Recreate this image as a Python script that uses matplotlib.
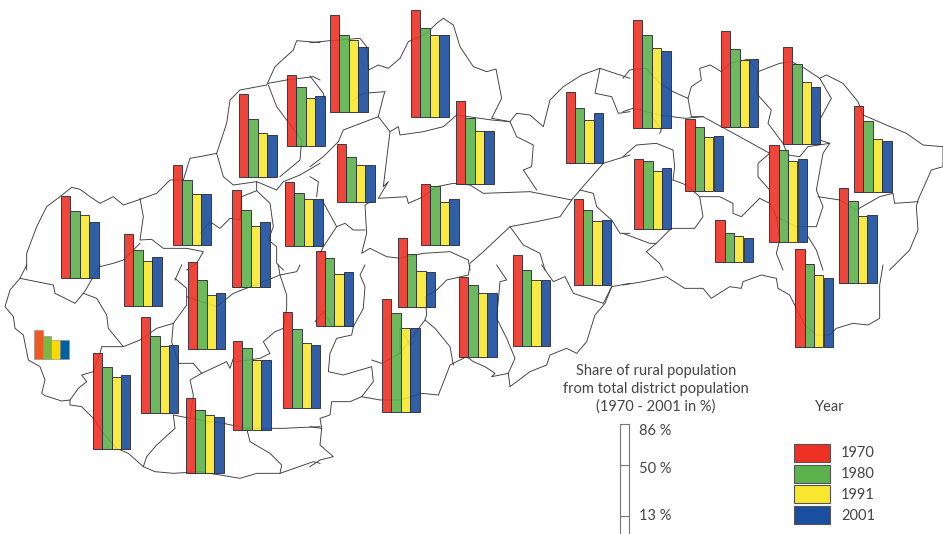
import matplotlib
matplotlib.use('Agg')
import matplotlib.pyplot as plt

plt.rcParams['font.family'] = ['Lato', 'DejaVu Sans']

years = ['1970', '1980', '1991', '2001']
colors = ['#EE3124', '#5CB24C', '#F8E72E', '#1A4E9E']

# share of rural population per district, in %
share_1970 = [62.6, 55.3, 61.1, 74.0, 63.7, 54.2, 48.9, 74.0, 81.3, 62.6, 44.3, 46.2,
              53.8, 56.9, 52.4, 86.0, 60.7, 69.5, 65.6, 72.9, 73.3, 66.0, 57.0, 67.6,
              72.9, 82.2, 73.3, 74.4, 66.0, 55.0, 53.4, 73.8, 72.8, 32.4, 74.6]
share_1980 = [50.8, 42.7, 49.6, 58.8, 43.9, 45.0, 40.5, 58.8, 67.9, 50.0, 34.7, 44.7,
              41.6, 51.5, 40.2, 75.6, 54.6, 58.0, 57.3, 62.2, 58.4, 52.3, 48.2, 62.2,
              59.9, 71.1, 59.8, 61.1, 54.2, 48.9, 51.9, 70.0, 63.2, 22.1, 63.1]
share_1991 = [48.1, 34.4, 38.9, 46.2, 33.6, 36.6, 35.9, 55.3, 62.6, 39.7, 27.9, 32.8,
              32.8, 39.3, 27.3, 64.1, 48.1, 50.4, 48.9, 54.6, 50.8, 40.8, 44.0, 53.1,
              49.2, 60.5, 51.1, 47.3, 40.5, 41.0, 44.3, 61.6, 51.4, 20.2, 54.7]
share_2001 = [42.7, 37.4, 39.3, 49.6, 32.4, 38.2, 35.9, 50.0, 62.6, 40.1, 27.9, 34.7,
              37.8, 40.8, 26.5, 64.1, 48.1, 50.4, 49.6, 56.1, 51.9, 42.4, 42.5, 53.1,
              47.7, 58.6, 51.9, 43.5, 38.9, 42.1, 46.2, 63.1, 51.8, 18.3, 52.8]

# the one small diagram in the far west is printed in duller colours
west_share = [21.8, 17.2, 14.5, 14.5]
west_colors = ['#F05A22', '#7AB648', '#FFD800', '#0060A0']

scale_labels = ['86 %', '50 %', '13 %']
legend_title = ['Share of rural population', 'from total district population', '(1970 - 2001 in %)']

# where each district's diagram stands on the map (left edge, baseline)
diagram_left = [61, 124, 173, 232, 239, 287, 285, 330, 411, 456, 337, 421,
                565.5, 315.5, 397.5, 382, 459, 512.5, 573.5, 92.7, 140.7, 187.7, 186, 233,
                282.7, 633, 720.7, 782.7, 854, 685.3, 633.7, 769.3, 839, 715.3, 795.3]
diagram_base = [278, 306, 245, 287, 177, 146, 246, 112, 117, 183.5, 202, 244.5,
                162.5, 325.5, 306.7, 412, 356.5, 346, 285, 448.5, 413, 348.5, 472.7, 429.5,
                407.5, 127.7, 127, 144, 192, 190.7, 229, 241.7, 283.3, 262, 346.7]

PX_PER_PCT = 1.31
BAR_W = 9.4


# borders were traced on 3x crops, so each piece keeps its crop offset
def tile(x0, y0, pts):
    return [(x0 + x / 3, y0 + y / 3) for x, y in pts]


borders = [
    # outer boundary
    tile(0, 0, [(80, 810), (80, 760), (110, 680), (140, 620), (180, 590), (215, 562), (240, 568), (270, 590),
                (300, 610), (340, 590), (370, 615), (415, 600), (470, 580), (510, 540), (550, 540), (570, 475),
                (610, 468), (650, 460), (680, 370), (690, 300), (720, 270), (800, 255), (825, 200), (880, 150),
                (890, 122), (960, 128)]),
    tile(310, 0, [(0, 128), (60, 122), (150, 115), (170, 140), (175, 210), (205, 195), (235, 205), (270, 175),
                  (295, 125), (350, 100), (380, 70), (400, 55), (430, 75), (450, 140), (490, 200), (530, 215),
                  (558, 207), (575, 295), (545, 355), (600, 365), (620, 340), (660, 345), (700, 380), (720, 300),
                  (760, 260), (815, 225), (870, 205), (960, 235)]),
    tile(623, 0, [(0, 235), (20, 210), (70, 205), (110, 250), (150, 275), (195, 295), (205, 260), (235, 240),
                  (230, 205), (262, 195), (295, 215), (320, 190), (375, 178), (405, 215), (470, 190), (505, 185),
                  (545, 205), (590, 235), (610, 225), (660, 250), (705, 305), (720, 345), (790, 375), (850, 400),
                  (900, 435), (960, 440), (960, 500), (925, 510), (885, 600), (880, 620), (885, 690), (860, 750),
                  (800, 810)]),
    tile(623, 265, [(780, 0), (770, 60), (770, 160), (735, 180), (690, 175), (640, 190), (620, 210), (580, 210),
                    (545, 180), (520, 130), (500, 90), (465, 70), (460, 40), (415, 30), (360, 50), (355, 70),
                    (320, 65), (265, 100), (240, 70), (185, 70), (130, 35), (60, 50), (0, 60)]),
    tile(310, 265, [(960, 55), (905, 65), (885, 115), (855, 150), (830, 230), (800, 265), (770, 250), (720, 270),
                    (710, 300), (660, 320), (600, 365), (595, 325), (545, 335), (555, 325), (525, 305), (490, 290),
                    (470, 275), (420, 300), (405, 340), (385, 390), (335, 385), (270, 405), (210, 405), (155, 395),
                    (120, 410), (65, 410), (60, 450), (30, 460), (35, 490), (30, 540), (70, 575), (30, 585),
                    (0, 605)]),
    tile(0, 265, [(960, 595), (940, 590), (840, 625), (770, 625), (720, 640), (660, 630), (600, 620), (520, 625),
                  (465, 620), (430, 605), (385, 565), (350, 550), (310, 505), (280, 460), (245, 425), (210, 420),
                  (210, 405), (185, 408), (135, 392), (125, 385), (135, 345), (120, 305), (85, 285), (70, 210),
                  (45, 190), (40, 155), (15, 125), (30, 75), (60, 40), (80, 0)]),
    # districts, north west
    tile(0, 0, [(420, 595), (430, 650), (420, 720), (455, 718), (490, 745), (560, 745), (610, 755), (590, 790),
                (560, 810)]),
    tile(0, 0, [(600, 700), (630, 665), (660, 685), (690, 655), (720, 660), (725, 590), (770, 572), (770, 545)]),
    tile(0, 0, [(650, 460), (670, 530), (700, 555), (770, 545), (830, 570), (850, 545), (900, 525), (960, 490)]),
    tile(0, 0, [(805, 255), (830, 320), (905, 420), (900, 480), (840, 530)]),
    tile(0, 0, [(805, 250), (860, 240), (940, 230), (960, 240)]),
    tile(0, 0, [(770, 572), (810, 610), (820, 680), (805, 720), (830, 740), (830, 790), (850, 810)]),
    tile(0, 0, [(300, 800), (340, 790), (370, 780), (420, 730)]),
    # centre
    tile(310, 0, [(0, 228), (40, 280), (45, 300)]),
    tile(310, 0, [(85, 425), (100, 390), (205, 350), (220, 290), (225, 275), (160, 280), (130, 300)]),
    tile(310, 0, [(205, 350), (240, 395), (220, 560), (235, 545), (205, 595), (290, 590), (295, 610), (340, 590),
                  (380, 560), (430, 550), (480, 555), (520, 580), (660, 575), (785, 600)]),
    tile(310, 0, [(240, 395), (265, 380), (270, 405), (340, 395), (400, 380), (440, 345)]),
    tile(310, 0, [(440, 345), (510, 355), (545, 360), (600, 365), (620, 410), (670, 435), (665, 500), (640, 510),
                  (680, 570)]),
    tile(310, 0, [(85, 425), (40, 470), (0, 500)]),
    tile(310, 0, [(0, 530), (25, 545), (20, 590)]),
    tile(310, 0, [(190, 600), (165, 615), (170, 700), (155, 760), (180, 745), (230, 770), (270, 775), (340, 760),
                  (420, 755), (475, 780), (480, 810)]),
    tile(310, 0, [(785, 600), (750, 650), (680, 665), (600, 680), (520, 755), (480, 790)]),
    tile(310, 0, [(600, 680), (640, 735), (690, 760), (705, 810)]),
    tile(310, 0, [(36, 600), (80, 680), (40, 740), (30, 760)]),
    tile(310, 0, [(80, 680), (105, 670), (130, 690), (165, 690)]),
    tile(310, 0, [(785, 600), (810, 570), (880, 490), (960, 465)]),
    tile(310, 0, [(810, 570), (850, 580), (860, 620), (905, 660), (930, 700), (960, 700)]),
    tile(310, 0, [(870, 205), (855, 280), (905, 290), (925, 340), (960, 335)]),
    # south centre
    tile(310, 265, [(165, 0), (150, 30), (165, 65), (160, 130), (130, 185), (125, 210), (80, 220), (60, 265),
                    (55, 320), (100, 330), (185, 305), (190, 350), (155, 395)]),
    tile(310, 265, [(130, 185), (65, 180), (40, 140), (15, 170)]),
    tile(310, 265, [(185, 285), (215, 295), (270, 265), (270, 190), (300, 240)]),
    tile(310, 265, [(270, 265), (345, 165), (350, 150), (345, 95), (380, 75), (410, 45), (475, 30), (480, 0)]),
    tile(310, 265, [(345, 165), (375, 190), (420, 245), (430, 300)]),
    tile(310, 265, [(560, 0), (590, 45), (570, 50), (560, 160), (590, 220), (615, 280), (595, 325)]),
    tile(310, 265, [(695, 0), (730, 50), (765, 35), (790, 85), (880, 115), (905, 65)]),
    # east
    tile(623, 0, [(0, 335), (30, 325), (110, 345), (185, 355), (240, 350), (350, 410), (440, 460), (405, 490),
                  (405, 530), (440, 570), (440, 610), (410, 595), (355, 650), (330, 640), (330, 610), (290, 590),
                  (230, 590), (240, 650), (215, 685), (145, 685), (100, 730), (80, 730), (0, 700)]),
    tile(623, 0, [(100, 730), (70, 755), (110, 790), (120, 810)]),
    tile(623, 0, [(150, 540), (190, 555), (230, 590)]),
    tile(623, 0, [(0, 470), (40, 435), (100, 430), (150, 450), (155, 500), (150, 540)]),
    tile(623, 0, [(110, 400), (115, 390), (85, 345)]),
    tile(623, 0, [(195, 295), (205, 350), (240, 350)]),
    tile(623, 0, [(405, 215), (400, 280), (445, 330), (435, 370), (480, 430), (495, 465), (530, 470), (555, 440),
                  (620, 430), (600, 460), (580, 570), (600, 620), (580, 680), (520, 680), (460, 650), (440, 610)]),
    tile(623, 0, [(590, 235), (625, 295), (590, 360), (590, 420), (620, 430)]),
    tile(623, 0, [(585, 590), (650, 600), (700, 630), (770, 590), (810, 580), (815, 610), (885, 605)]),
    tile(623, 0, [(460, 650), (470, 720), (460, 760), (480, 810)]),
    tile(623, 0, [(555, 710), (580, 750), (600, 810)]),
    # south west
    tile(0, 265, [(60, 40), (160, 60), (165, 85), (225, 115), (250, 85), (290, 100), (320, 150), (325, 190),
                  (370, 245), (420, 225), (470, 190), (520, 175), (515, 230), (535, 295), (580, 295), (605, 325),
                  (680, 290), (690, 310), (700, 280)]),
    tile(0, 265, [(300, 0), (260, 70), (250, 85)]),
    tile(0, 265, [(370, 245), (305, 245), (300, 265), (280, 320), (245, 330), (260, 350), (235, 370), (210, 405)]),
    tile(0, 265, [(525, 40), (560, 70), (560, 120), (520, 175)]),
    tile(0, 265, [(525, 45), (545, 0)]),
    tile(0, 265, [(560, 95), (650, 125), (700, 85), (790, 50), (840, 30), (860, 90), (860, 130), (850, 190),
                  (825, 200), (790, 230), (810, 265), (780, 280), (710, 290)]),
    tile(0, 265, [(835, 0), (840, 30), (890, 20), (900, 0)]),
    tile(0, 265, [(605, 325), (570, 345), (580, 390), (570, 460), (520, 450), (525, 490), (470, 540), (440, 575),
                  (430, 605)]),
    tile(0, 265, [(570, 460), (670, 475), (740, 490), (750, 530), (810, 565), (845, 600), (840, 625)]),
    tile(0, 265, [(740, 490), (850, 490), (960, 485)]),
    tile(310, 265, [(0, 485), (35, 490)]),
]

fig = plt.figure(figsize=(9.43, 5.34), dpi=100)
ax = fig.add_axes([0, 0, 1, 1])
ax.set_xlim(0, 943)
ax.set_ylim(534, 0)
ax.axis('off')

for line in borders:
    xs, ys = zip(*line)
    ax.plot(xs, ys, color='#3a3a3a', lw=0.65, zorder=1, solid_joinstyle='round')

# bars grow upwards from the baseline, y axis runs in pixels from the top
series = [share_1970, share_1980, share_1991, share_2001]
for i, values in enumerate(series):
    xs = [left + i * BAR_W for left in diagram_left]
    heights = [-v * PX_PER_PCT for v in values]
    ax.bar(xs, heights, BAR_W, bottom=diagram_base, align='edge', color=colors[i],
           edgecolor='#2b2b3a', linewidth=0.7, alpha=0.9, zorder=2)

for i, v in enumerate(west_share):
    ax.bar(34 + i * 8.7, -v * PX_PER_PCT, 8.7, bottom=358.5, align='edge', color=west_colors[i],
           edgecolor='#8a8a8a', linewidth=0.4, zorder=2)

# percentage scale
ax.plot([620, 620, 628.5, 628.5], [534, 424, 424, 534], color='#777777', lw=0.8, zorder=3)
for y in [465, 516]:
    ax.plot([620, 628.5], [y, y], color='#777777', lw=0.8, zorder=3)
for label, y in zip(scale_labels, [431, 469, 516]):
    ax.text(639, y, label, fontsize=10.5, color='#444444', va='center', ha='left')

for line, y in zip(legend_title, [371, 389, 407]):
    ax.text(656, y, line, fontsize=10.5, color='#444444', va='center', ha='center')

# year legend
ax.text(830, 407, 'Year', fontsize=10.5, color='#444444', va='center', ha='center')
swatch_top = [444, 465, 485, 505.7]
swatch_h = [18, 18, 18, 18.3]
label_y = [453, 474, 495, 516]
for i, year in enumerate(years):
    ax.bar(794, swatch_h[i], 36, bottom=swatch_top[i], align='edge', color=colors[i],
           edgecolor='#555555', linewidth=0.8, zorder=3)
    ax.text(841, label_y[i], year, fontsize=10.5, color='#444444', va='center', ha='left')

fig.savefig('out.png', dpi=100)
